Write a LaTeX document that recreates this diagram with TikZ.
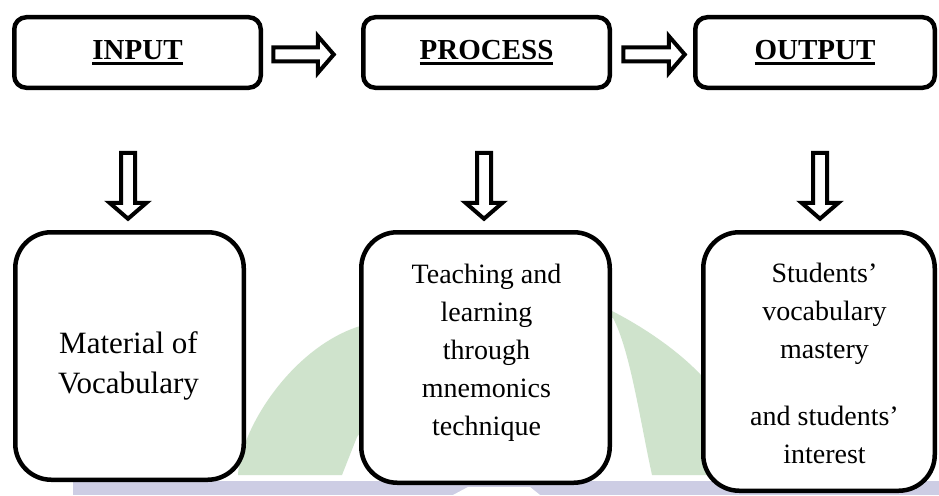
\documentclass[tikz,border=0pt]{standalone}
\usepackage{fontspec}
\setmainfont{Liberation Serif}
\usetikzlibrary{calc}

\definecolor{wmgreen}{RGB}{207,227,204}
\definecolor{wmlav}{RGB}{205,205,228}

% bold heading with a thick underline
\newsavebox{\lblbox}
\newcommand{\ulabel}[1]{\sbox{\lblbox}{#1}\rlap{\raisebox{-5.6pt}{\rule{\wd\lblbox}{2.6pt}}}\usebox{\lblbox}}

\tikzset{
  stage/.style={draw, line width=4.5pt, rounded corners=12pt, fill=white,
    font=\fontsize{29}{34}\selectfont\bfseries},
  panel/.style={draw, line width=4.5pt, rounded corners=36pt, fill=white},
  paneltext/.style={align=center, inner sep=0pt, font=\fontsize{28}{38}\selectfont},
  % outlined block arrow from the start point to the tip
  blockarrow/.style={draw, line width=4pt, fill=white, line join=miter,
    to path={
      ($(\tikztostart)!7pt!90:(\tikztotarget)$)
      -- ($($(\tikztotarget)!16pt!(\tikztostart)$)!7pt!90:(\tikztotarget)$)
      -- ($($(\tikztotarget)!16pt!(\tikztostart)$)!18.5pt!90:(\tikztotarget)$)
      -- (\tikztotarget)
      -- ($($(\tikztotarget)!16pt!(\tikztostart)$)!18.5pt!-90:(\tikztotarget)$)
      -- ($($(\tikztotarget)!16pt!(\tikztostart)$)!7pt!-90:(\tikztotarget)$)
      -- ($(\tikztostart)!7pt!-90:(\tikztotarget)$)
      -- cycle}}
}

\begin{document}
\begin{tikzpicture}[x=1pt,y=-1pt]
\useasboundingbox (0,0) rectangle (939,495);
\fill[white] (0,0) rectangle (939,495);

% faint logo in the background
\fill[wmgreen] (238,475) .. controls (240,430) and (290,350) .. (357,327)
  -- (480,292) -- (610,310) .. controls (650,330) and (700,365) .. (720,400)
  -- (760,475) -- (652,475) .. controls (640,420) and (630,350) .. (613,318)
  -- (590,315) -- (400,380) -- (357,437) -- (342,475) -- cycle;
\fill[wmlav] (73,481) rectangle (939,495);
\fill[white] (453,495) -- (468,487) -- (530,487) -- (540,495) -- cycle;

% top row
\node[stage, minimum width=246.5pt, minimum height=70.5pt] (inT) at (137.5,52.5) {\ulabel{INPUT}};
\node[stage, minimum width=246.5pt, minimum height=70.5pt] (prT) at (486.5,52.5) {\ulabel{PROCESS}};
\node[stage, minimum width=239.5pt, minimum height=70.5pt] (ouT) at (815,52.5) {\ulabel{OUTPUT}};

% bottom row
\node[panel, minimum width=228.5pt, minimum height=247.5pt] (inB) at (129.5,356) {};
\node[panel, minimum width=248.5pt, minimum height=250.5pt] (prB) at (485.5,357.5) {};
\node[panel, minimum width=231.5pt, minimum height=258.5pt] (ouB) at (819,361.5) {};

\node[paneltext, font=\fontsize{31}{40}\selectfont] (inTxt) at (128.5,366) {Material of\\Vocabulary};
\node[paneltext] (prTxt) at (486.5,352.5) {Teaching and\\learning\\through\\mnemonics\\technique};
\node[paneltext] (ouTxt) at (824.5,363.5) {Students’\\vocabulary\\mastery\\[29pt]and students’\\interest};

% arrows between the stages
\coordinate (h1s) at ($(inT.east)+(10.25,2)$);
\coordinate (h1e) at ($(prT.west)+(-27.25,2)$);
\coordinate (h2s) at ($(prT.east)+(11.25,2)$);
\coordinate (h2e) at ($(ouT.west)+(-8.25,2)$);
\draw[blockarrow] (h1s) to (h1e);
\draw[blockarrow] (h2s) to (h2e);

% arrows down to the detail panels
\coordinate (v1s) at ($(inB.north)+(-1.5,-77.25)$);
\coordinate (v1e) at ($(inB.north)+(-1.5,-11.25)$);
\coordinate (v2s) at ($(prB.north)+(-1.5,-77.25)$);
\coordinate (v2e) at ($(prB.north)+(-1.5,-11.25)$);
\coordinate (v3s) at ($(ouB.north)+(1,-77.25)$);
\coordinate (v3e) at ($(ouB.north)+(1,-11.25)$);
\draw[blockarrow] (v1s) to (v1e);
\draw[blockarrow] (v2s) to (v2e);
\draw[blockarrow] (v3s) to (v3e);
\end{tikzpicture}
\end{document}
